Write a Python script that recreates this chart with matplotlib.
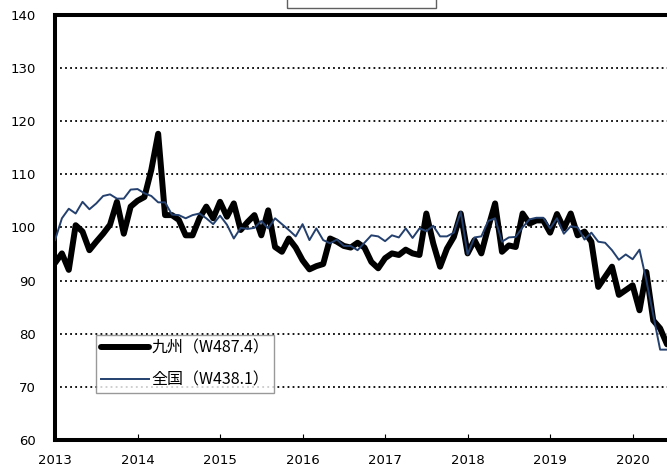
import numpy as np
import matplotlib.pyplot as plt
from matplotlib.patches import Rectangle

plt.rcParams['font.family'] = ['DejaVu Sans']

# monthly index, Jan 2013 .. Jun 2020
years = [2013, 2014, 2015, 2016, 2017, 2018, 2019, 2020]

kyushu = [93.3, 95.1, 92.0, 100.4, 99.2, 95.7, 97.3, 98.8, 100.5, 104.8, 98.8, 103.9,
          105.0, 105.7, 110.8, 117.6, 102.3, 102.3, 101.4, 98.5, 98.5, 101.7, 103.9, 101.7,
          104.8, 102.0, 104.5, 99.5, 101.0, 102.3, 98.5, 103.2, 96.3, 95.4, 97.9, 96.2,
          93.8, 92.1, 92.7, 93.1, 97.9, 97.3, 96.5, 96.2, 97.1, 96.2, 93.5, 92.3,
          94.2, 95.1, 94.8, 95.8, 95.1, 94.8, 102.6, 97.0, 92.6, 96.0, 98.2, 102.6,
          95.1, 97.6, 95.1, 100.0, 104.5, 95.4, 96.6, 96.3, 102.6, 100.7, 101.3, 101.3,
          99.0, 102.5, 99.8, 102.6, 98.5, 99.2, 97.3, 88.8, 90.7, 92.6, 87.3, 88.2,
          89.1, 84.4, 91.6, 82.5, 81.0, 78.0]

zenkoku = [97.6, 101.7, 103.5, 102.6, 104.8, 103.4, 104.5, 105.9, 106.2, 105.4, 105.4, 107.1,
           107.2, 106.4, 105.9, 104.7, 104.7, 102.4, 102.3, 101.7, 102.3, 102.6, 101.7, 100.6,
           102.2, 100.5, 97.9, 99.9, 99.7, 99.9, 101.2, 99.8, 101.7, 100.6, 99.5, 98.3,
           100.6, 97.6, 99.8, 97.6, 97.0, 97.7, 96.5, 96.5, 95.7, 97.1, 98.5, 98.3,
           97.4, 98.5, 98.1, 99.8, 98.0, 99.8, 99.3, 100.3, 98.3, 98.3, 99.0, 102.9,
           94.9, 98.1, 98.3, 101.2, 101.7, 97.3, 98.1, 98.2, 100.0, 101.5, 101.8, 101.8,
           99.8, 101.7, 98.8, 100.2, 100.0, 97.7, 99.0, 97.3, 97.1, 95.7, 93.9, 94.9,
           94.0, 95.8, 90.0, 83.5, 77.0, 77.0]

labels = ['九州（W487.4）', '全国（W438.1）']

months = np.arange(len(kyushu))

fig = plt.figure(figsize=(6.67, 4.70), dpi=100)
ax = fig.add_axes([0.0825, 0.0638, 0.9175, 0.905])

ax.plot(months, kyushu, color='black', lw=4.3, solid_joinstyle='round', solid_capstyle='round',
        label=labels[0], zorder=3)
ax.plot(months, zenkoku, color='#24406E', lw=1.4, label=labels[1], zorder=4)

ax.set_xlim(0, len(kyushu) - 1)
ax.set_ylim(60, 140)
ax.set_yticks(range(60, 141, 10))
ax.set_xticks([12 * k for k in range(len(years))])
ax.set_xticklabels([str(y) for y in years])
ax.tick_params(axis='x', direction='in', length=4, width=0.8, pad=10, labelsize=9.5)
ax.tick_params(axis='y', length=0, pad=14, labelsize=9.5)

for v in range(70, 140, 10):
    ax.axhline(v, color='black', lw=1.3, ls=(0, (1, 1.8)), zorder=1)

for s in ['left', 'bottom', 'top']:
    ax.spines[s].set_linewidth(2.9)
ax.spines['right'].set_visible(False)

leg = ax.legend(loc='upper left', bbox_to_anchor=(0.067, 0.247), borderaxespad=0, frameon=True,
                fancybox=False, handlelength=3.0, handletextpad=0.15, borderpad=0.3,
                labelspacing=0.9,
                prop={'family': ['Noto Sans CJK JP', 'DejaVu Sans'], 'size': 11.5})
leg.get_frame().set_edgecolor('#808080')
leg.get_frame().set_linewidth(1.0)
leg.legend_handles[0].set_solid_capstyle('round')

# title box cut at the top of the picture
fig.patches.append(Rectangle((287 / 667, 1 - 7.5 / 470), 149 / 667, 0.1,
                             transform=fig.transFigure, fill=False, edgecolor='#606060', lw=1.0))

fig.savefig('out.png', dpi=100)
